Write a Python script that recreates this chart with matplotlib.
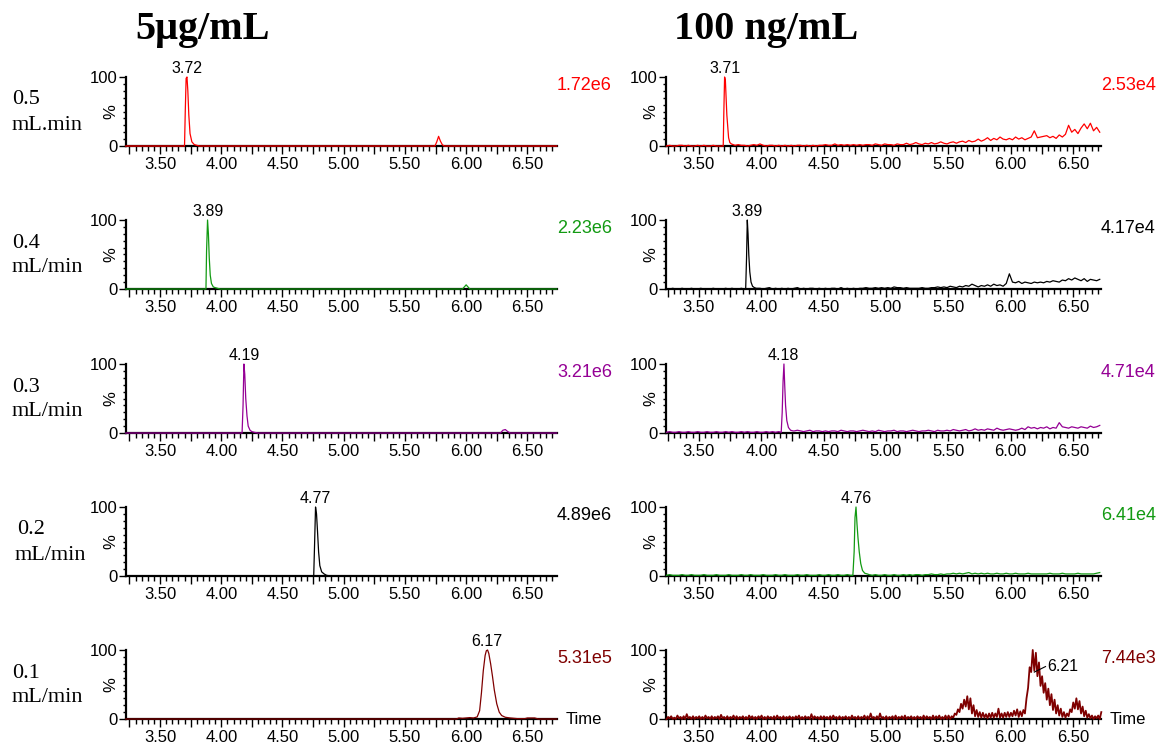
import numpy as np
import matplotlib.pyplot as plt
from matplotlib.ticker import MultipleLocator, FuncFormatter

plt.rcParams['font.family'] = ['Liberation Sans', 'DejaVu Sans']

W, H = 1158, 746

# ---------------- labels ----------------
col_titles = ['5μg/mL', '100 ng/mL']
flow_top = ['0.5', '0.4', '0.3', '0.2', '0.1']
flow_bottom = ['mL.min', 'mL/min', 'mL/min', 'mL/min', 'mL/min']

left_colors = ['#ff0000', '#129a12', '#950095', '#000000', '#7f0000']
right_colors = ['#ff0000', '#000000', '#950095', '#129a12', '#7f0000']
left_scale = ['1.72e6', '2.23e6', '3.21e6', '4.89e6', '5.31e5']
right_scale = ['2.53e4', '4.17e4', '4.71e4', '6.41e4', '7.44e3']
left_rt = [3.72, 3.89, 4.19, 4.77, 6.17]
right_rt = [3.71, 3.89, 4.18, 4.76, 6.21]

# ---------------- 5 ug/mL traces (time, %) ----------------
left1_t = [3.22, 3.700, 3.706, 3.713, 3.720, 3.727, 3.735, 3.745, 3.760, 3.780, 3.800, 3.820,
           5.745, 5.760, 5.775, 5.790, 5.805, 5.820, 6.74]
left1_y = [0, 0, 50, 98, 100, 80, 45, 18, 6, 2, 1, 0, 0, 6, 14, 7, 2, 0, 0]

left2_t = [3.22, 3.875, 3.880, 3.888, 3.895, 3.902, 3.910, 3.920, 3.935, 3.950, 3.970, 3.990,
           5.970, 5.985, 6.000, 6.015, 6.030, 6.74]
left2_y = [0, 0, 55, 100, 80, 45, 20, 8, 3, 2, 1, 0, 0, 3, 6, 3, 0, 0]

left3_t = [3.22, 4.170, 4.178, 4.185, 4.192, 4.200, 4.210, 4.220, 4.235, 4.250, 4.270, 4.300,
           6.280, 6.300, 6.320, 6.340, 6.360, 6.74]
left3_y = [0, 0, 40, 100, 85, 50, 25, 10, 4, 2, 1, 0, 0, 4, 5, 2, 0, 0]

left4_t = [3.22, 4.755, 4.762, 4.770, 4.778, 4.786, 4.795, 4.805, 4.820, 4.840, 4.860, 4.890, 6.74]
left4_y = [0, 0, 45, 100, 90, 65, 35, 15, 6, 3, 1, 0, 0]

left5_t = [3.22, 5.92, 5.94, 5.97, 6.00, 6.03, 6.06, 6.09, 6.11, 6.125, 6.14, 6.155, 6.165,
           6.175, 6.185, 6.20, 6.215, 6.23, 6.25, 6.27, 6.29, 6.32, 6.36, 6.42, 6.48, 6.50,
           6.56, 6.59, 6.74]
left5_y = [0, 0, 1.5, 1, 1.5, 2, 1.5, 3, 12, 38, 70, 92, 99, 100, 95, 80, 62, 42, 22, 10, 5,
           2.5, 1.5, 0.5, 0.5, 1.5, 1.5, 0, 0]

# ---------------- 100 ng/mL traces ----------------
# baseline readings every 0.025 min from 3.24 min, peak segments on their own
scan_start, scan_step = 3.24, 0.025

right1_y = [0, 1, 0, 0, 1, 1, 0, 1, 0, 0,
            1, 0, 1, 0, 0, 1, 0, 0, 0, 0,
            3, 2, 1, 2, 1, 1, 0, 1, 2, 1,
            3, 1, 0, 1, 1, 0, 1, 0, 1, 0,
            1, 0, 1, 1, 0, 1, 0, 1, 0, 1,
            1, 2, 1, 1, 3, 1, 2, 1, 2, 1,
            2, 1, 2, 1, 2, 2, 1, 3, 2, 1,
            3, 2, 2, 1, 3, 2, 2, 4, 2, 3,
            5, 3, 2, 4, 3, 5, 3, 4, 6, 4,
            3, 5, 6, 4, 6, 7, 5, 8, 6, 7,
            10, 7, 9, 12, 8, 11, 9, 13, 10, 9,
            11, 9, 13, 10, 12, 9, 11, 13, 22, 12,
            13, 14, 15, 12, 14, 11, 16, 13, 17, 30,
            20, 24, 18, 26, 32, 25, 33, 22, 27, 20]
right1_pk_t = [3.695, 3.700, 3.706, 3.712, 3.718, 3.724, 3.730, 3.738, 3.748, 3.760, 3.775]
right1_pk_y = [0, 50, 100, 96, 70, 45, 30, 12, 5, 3, 2]

right2_y = [0, 0, 1, 0, 0, 1, 0, 0, 1, 0,
            0, 1, 0, 0, 0, 1, 0, 0, 0, 1,
            0, 1, 0, 0, 1, 0, 0, 0, 0, 1,
            1, 0, 1, 2, 0, 1, 0, 1, 0, 1,
            0, 1, 2, 0, 1, 0, 1, 1, 0, 1,
            0, 1, 0, 1, 1, 0, 2, 0, 1, 0,
            1, 0, 1, 1, 2, 1, 1, 2, 1, 2,
            1, 2, 1, 3, 2, 2, 1, 2, 1, 1,
            1, 1, 2, 1, 1, 2, 2, 3, 2, 3,
            2, 4, 3, 2, 4, 3, 5, 4, 7, 5,
            3, 5, 4, 6, 4, 7, 5, 6, 4, 8,
            22, 10, 9, 11, 8, 10, 9, 8, 10, 9,
            10, 9, 11, 10, 12, 11, 10, 13, 12, 15,
            13, 16, 14, 12, 15, 11, 14, 13, 12, 14]
right2_pk_t = [3.875, 3.882, 3.888, 3.894, 3.900, 3.908, 3.918, 3.930, 3.945, 3.960]
right2_pk_y = [0, 45, 100, 80, 50, 25, 10, 4, 2, 1]

right3_y = [1, 2, 1, 1, 2, 1, 1, 2, 1, 1,
            2, 1, 1, 2, 1, 1, 2, 1, 1, 2,
            1, 2, 1, 1, 2, 1, 2, 1, 1, 2,
            1, 1, 2, 1, 2, 1, 2, 1, 2, 1,
            4, 3, 4, 3, 2, 3, 4, 2, 3, 3,
            2, 3, 2, 3, 3, 2, 4, 3, 2, 3,
            3, 2, 3, 4, 3, 2, 3, 2, 4, 3,
            2, 3, 3, 4, 2, 3, 3, 2, 3, 4,
            3, 2, 3, 3, 4, 3, 2, 4, 3, 3,
            4, 3, 5, 4, 3, 4, 5, 3, 4, 6,
            4, 5, 4, 6, 5, 4, 7, 5, 4, 5,
            6, 5, 4, 5, 7, 5, 9, 7, 8, 6,
            8, 7, 9, 6, 8, 7, 15, 9, 8, 7,
            9, 8, 7, 9, 8, 7, 10, 8, 9, 11]
right3_pk_t = [4.160, 4.168, 4.175, 4.182, 4.188, 4.195, 4.205, 4.218, 4.235, 4.255]
right3_pk_y = [1, 30, 75, 100, 70, 40, 18, 8, 4, 3]

right4_y = [1, 2, 1, 1, 1, 2, 1, 1, 2, 1,
            1, 1, 2, 1, 1, 1, 2, 1, 1, 1,
            2, 1, 1, 1, 2, 1, 1, 2, 1, 1,
            1, 2, 1, 1, 1, 2, 1, 1, 2, 1,
            1, 1, 2, 1, 1, 2, 1, 1, 1, 2,
            1, 1, 2, 1, 1, 2, 1, 1, 2, 1,
            1, 1, 1, 1, 1, 2, 1, 2, 1, 1,
            2, 1, 1, 2, 1, 1, 2, 1, 2, 1,
            2, 2, 1, 2, 2, 3, 2, 2, 3, 2,
            3, 3, 4, 3, 4, 3, 4, 5, 3, 4,
            3, 4, 3, 4, 3, 3, 4, 3, 3, 4,
            3, 3, 4, 3, 3, 3, 4, 3, 3, 3,
            3, 3, 3, 4, 3, 3, 3, 4, 3, 3,
            3, 3, 4, 3, 3, 3, 3, 3, 4, 5]
right4_pk_t = [4.735, 4.745, 4.752, 4.760, 4.768, 4.776, 4.786, 4.798, 4.812, 4.830, 4.850]
right4_pk_y = [1, 35, 85, 100, 75, 55, 35, 18, 8, 4, 3]

# the 0.1 mL/min trace is dense noise: low/high excursion in each 0.025 min step
right5_lo = [0, 1, 0, 0, 1, 0, 0, 1, 0, 0,
             1, 0, 0, 1, 0, 0, 1, 0, 1, 0,
             0, 1, 0, 0, 1, 0, 0, 1, 0, 0,
             1, 0, 0, 1, 0, 0, 1, 0, 0, 1,
             0, 0, 1, 0, 0, 1, 0, 0, 1, 0,
             0, 1, 0, 0, 1, 0, 0, 1, 0, 0,
             1, 0, 0, 1, 0, 0, 1, 0, 0, 1,
             0, 0, 1, 0, 0, 1, 0, 0, 1, 0,
             0, 1, 0, 0, 1, 0, 0, 1, 0, 0,
             0, 0, 2, 6, 10, 15, 18, 14, 8, 4,
             3, 2, 2, 1, 2, 2, 3, 2, 2, 3,
             3, 4, 5, 3, 4, 8, 45, 68, 70, 62,
             48, 38, 28, 20, 13, 8, 5, 3, 2, 4,
             10, 15, 14, 8, 4, 2, 1, 0, 1, 0]
right5_hi = [3, 4, 2, 5, 3, 4, 7, 3, 4, 3,
             4, 3, 5, 3, 4, 3, 4, 6, 3, 4,
             3, 5, 4, 3, 4, 3, 5, 4, 3, 4,
             5, 3, 4, 3, 4, 5, 3, 4, 3, 4,
             3, 4, 5, 3, 4, 3, 7, 4, 3, 4,
             4, 3, 4, 5, 3, 4, 3, 4, 3, 5,
             3, 4, 3, 5, 4, 8, 3, 4, 8, 3,
             4, 3, 4, 5, 3, 4, 5, 3, 4, 3,
             4, 3, 5, 4, 3, 5, 4, 5, 3, 5,
             5, 4, 8, 14, 22, 28, 33, 30, 20, 13,
             10, 9, 7, 8, 9, 8, 15, 8, 9, 10,
             9, 12, 14, 11, 13, 30, 75, 100, 96, 82,
             62, 52, 44, 36, 28, 20, 15, 10, 8, 14,
             24, 30, 26, 18, 12, 7, 5, 4, 5, 10]

left_traces = [(left1_t, left1_y), (left2_t, left2_y), (left3_t, left3_y),
               (left4_t, left4_y), (left5_t, left5_y)]
right_scans = [(right1_y, right1_pk_t, right1_pk_y), (right2_y, right2_pk_t, right2_pk_y),
               (right3_y, right3_pk_t, right3_pk_y), (right4_y, right4_pk_t, right4_pk_y)]


def with_peak(base, pk_t, pk_y):
    t = scan_start + scan_step * np.arange(len(base))
    base = np.asarray(base, dtype=float)
    keep = (t < pk_t[0]) | (t > pk_t[-1])
    tt = np.concatenate([t[keep], pk_t])
    yy = np.concatenate([base[keep], pk_y])
    order = np.argsort(tt)
    return tt[order], yy[order]


def label_fmt(v, pos):
    return f'{v:.2f}' if abs(v * 2 - round(v * 2)) < 1e-6 else ''


row_top = [77, 220, 364, 507, 650]
row_bot = [146, 289, 433, 576, 719]
col_x = [(126, 557), (666, 1101)]
col_xlim = [(3.222, 6.742), (3.236, 6.725)]

TICK_FS = 12

fig = plt.figure(figsize=(W / 100, H / 100), dpi=100)


def make_axes(col, row):
    x0, x1 = col_x[col]
    ax = fig.add_axes([x0 / W, 1 - row_bot[row] / H, (x1 - x0) / W, (row_bot[row] - row_top[row]) / H])
    ax.set_xlim(*col_xlim[col])
    ax.set_ylim(0, 100)
    ax.spines['top'].set_visible(False)
    ax.spines['right'].set_visible(False)
    ax.spines['left'].set_linewidth(1.6)
    ax.spines['bottom'].set_linewidth(1.6)
    ax.xaxis.set_major_locator(MultipleLocator(0.25))
    ax.xaxis.set_minor_locator(MultipleLocator(0.05))
    ax.xaxis.set_major_formatter(FuncFormatter(label_fmt))
    ax.set_yticks([0, 100])
    ax.yaxis.set_minor_locator(MultipleLocator(10))
    ax.tick_params(axis='x', which='major', length=6, width=1, labelsize=TICK_FS, pad=2)
    ax.tick_params(axis='x', which='minor', length=3.5, width=1)
    ax.tick_params(axis='y', which='major', length=5, width=1, labelsize=TICK_FS, pad=1)
    ax.tick_params(axis='y', which='minor', length=2.5, width=1)
    ax.text(-0.035, 0.5, '%', rotation=90, transform=ax.transAxes, ha='center', va='center',
            fontsize=TICK_FS)
    return ax


for r in range(5):
    # 5 ug/mL column
    ax = make_axes(0, r)
    t, y = left_traces[r]
    ax.plot(t, y, color=left_colors[r], lw=0.9, clip_on=False, zorder=3)
    ax.annotate(f'{left_rt[r]:.2f}', (left_rt[r], 100), xytext=(0, 1), textcoords='offset points',
                ha='center', va='bottom', fontsize=11.5)
    ax.text(1.0, 0.87, left_scale[r], transform=ax.transAxes, color=left_colors[r],
            ha='left', va='center', fontsize=13)

    # 100 ng/mL column
    ax = make_axes(1, r)
    if r < 4:
        t, y = with_peak(*right_scans[r])
        ax.plot(t, y, color=right_colors[r], lw=0.9, clip_on=False, zorder=3)
        ax.annotate(f'{right_rt[r]:.2f}', (right_rt[r], 100), xytext=(0, 1), textcoords='offset points',
                    ha='center', va='bottom', fontsize=11.5)
    else:
        ts = scan_start + scan_step * np.arange(len(right5_lo))
        t = np.column_stack([ts, ts + scan_step / 2]).ravel()
        y = np.column_stack([right5_lo, right5_hi]).ravel()
        ax.plot(t, y, color=right_colors[r], lw=1.3, clip_on=False, zorder=3)
        ax.plot([6.19, 6.28], [68, 76], color='black', lw=0.8, zorder=4)
        ax.text(6.29, 76, f'{right_rt[r]:.2f}', ha='left', va='center', fontsize=11.5)
    ax.text(1.0, 0.87, right_scale[r], transform=ax.transAxes, color=right_colors[r],
            ha='left', va='center', fontsize=13)

    # flow-rate labels at the far left
    fx = 17 if r == 3 else 12
    fig.text(fx / W, 1 - (row_top[r] + 23) / H, flow_top[r], family='Liberation Serif',
             fontsize=16, ha='left', va='center')
    fig.text((fx - 2 if r == 3 else fx) / W, 1 - (row_top[r] + 48) / H, flow_bottom[r],
             family='Liberation Serif', fontsize=16, ha='left', va='center')

# "Time" on the bottom row
for c in range(2):
    fig.text((col_x[c][1] + 9) / W, 1 - row_bot[4] / H, 'Time', fontsize=TICK_FS,
             ha='left', va='center')

fig.text(203 / W, 1 - 29 / H, col_titles[0], family='Liberation Serif', weight='bold',
         fontsize=29, ha='center', va='center')
fig.text(766 / W, 1 - 29 / H, col_titles[1], family='Liberation Serif', weight='bold',
         fontsize=29, ha='center', va='center')

fig.savefig('out.png', dpi=100)
